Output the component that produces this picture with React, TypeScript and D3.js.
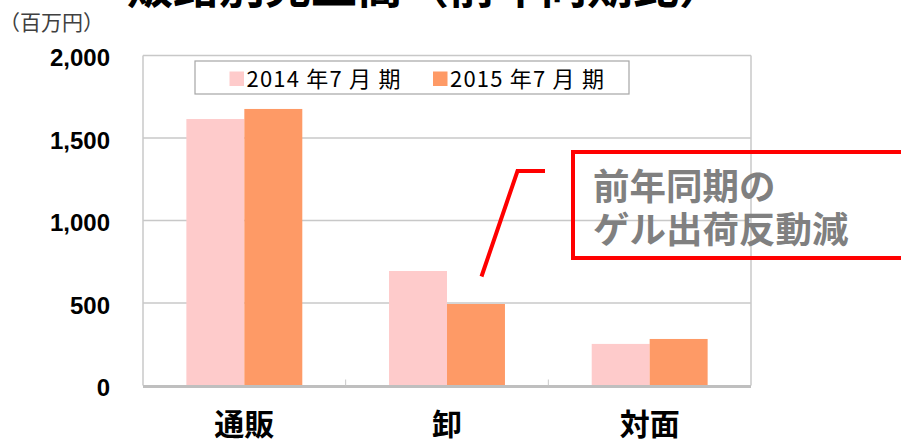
import React from "react";
import * as d3 from "d3";

const categories = ["通販", "卸", "対面"];
const seriesNames = ["2014年7月期", "2015年7月期"];
const legendLabels = ["2014 年7 月 期", "2015 年7 月 期"];
const values2014 = [1615, 694, 252];
const values2015 = [1676, 494, 282];
const yTicks = [0, 500, 1000, 1500, 2000];
const colors = ["#FECBCB", "#FE9A66"];
const titleText = "販路別売上高（前年同期比）";
const unitText = "（百万円）";
const noteLines = ["前年同期の", "ゲル出荷反動減"];

const W = 901;
const H = 440;
const left = 143;
const right = 751;
const top = 55.5;
const bottom = 385.5;

export default function App() {
  const y = d3.scaleLinear().domain([0, 2000]).range([bottom, top]);
  const x0 = d3
    .scaleBand<string>()
    .domain(categories)
    .range([left, right])
    .paddingInner(0.428)
    .paddingOuter(0.214);
  const x1 = d3
    .scaleBand<string>()
    .domain(seriesNames)
    .range([0, x0.bandwidth()])
    .padding(0);
  const series = [values2014, values2015];
  const fmt = d3.format(",");
  const step = x0.step();
  const boundaries = categories.slice(1).map((c) => (x0(c) as number) - (step - x0.bandwidth()) / 2);

  const jp = "'Noto Sans CJK JP', 'Noto Sans', sans-serif";

  return (
    <svg
      width={W}
      height={H}
      style={{ position: "absolute", left: 0, top: 0, display: "block", background: "#fff" }}
    >
      {/* title (cut off at top) */}
      <text x={127} y={2.5} fontFamily={jp} fontWeight={700} fontSize={46} fill="#000">
        {titleText}
      </text>
      <text x={-1} y={30} fontFamily={jp} fontSize={21} fill="#404040">
        {unitText}
      </text>

      {/* gridlines */}
      {yTicks
        .filter((t) => t > 0)
        .map((t) => (
          <line key={t} x1={left} x2={right} y1={y(t)} y2={y(t)} stroke="#c8c8c8" strokeWidth={1.5} />
        ))}
      {/* plot frame */}
      <line x1={left} x2={left} y1={top} y2={bottom} stroke="#c8c8c8" strokeWidth={1.5} />
      <line x1={right} x2={right} y1={top} y2={bottom} stroke="#c8c8c8" strokeWidth={1.5} />

      {/* bars */}
      {categories.map((c, i) => (
        <g key={c} transform={`translate(${x0(c)},0)`}>
          {seriesNames.map((s, j) => (
            <rect
              key={s}
              x={x1(s)}
              y={y(series[j][i])}
              width={x1.bandwidth()}
              height={y(0) - y(series[j][i])}
              fill={colors[j]}
            />
          ))}
        </g>
      ))}

      {/* x axis */}
      <line x1={left} x2={right} y1={bottom + 1} y2={bottom + 1} stroke="#bfbfbf" strokeWidth={3} />
      {boundaries.map((b, i) => (
        <line key={i} x1={b} x2={b} y1={bottom - 6} y2={bottom} stroke="#c8c8c8" strokeWidth={1} />
      ))}

      {/* y labels */}
      {yTicks.map((t) => (
        <text
          key={t}
          x={110}
          y={y(t) + 10.5}
          textAnchor="end"
          fontFamily="'Liberation Sans', Arial, sans-serif"
          fontWeight={700}
          fontSize={24}
          fill="#000"
        >
          {fmt(t)}
        </text>
      ))}

      {/* x labels */}
      {categories.map((c) => (
        <text
          key={c}
          x={(x0(c) as number) + x0.bandwidth() / 2}
          y={435}
          textAnchor="middle"
          fontFamily={jp}
          fontWeight={700}
          fontSize={30}
          fill="#000"
        >
          {c}
        </text>
      ))}

      {/* legend */}
      <rect x={195} y={61} width={434} height={33} fill="#fff" stroke="#a6a6a6" strokeWidth={1.2} />
      {legendLabels.map((l, i) => {
        const sx = [229.5, 433][i];
        return (
          <g key={l}>
            <rect x={sx} y={71.5} width={14.5} height={14.5} fill={colors[i]} />
            <text
              x={sx + 17}
              y={86.5}
              fontFamily={jp}
              fontSize={22}
              fill="#000"
              textLength={154}
              lengthAdjust="spacing"
            >
              {l}
            </text>
          </g>
        );
      })}

      {/* annotation */}
      <polyline
        points="545,171 517.5,171 481.5,276.5"
        fill="none"
        stroke="#ff0000"
        strokeWidth={4}
      />
      <rect x={573} y={152} width={340} height={106} fill="none" stroke="#ff0000" strokeWidth={4} />
      {noteLines.map((l, i) => (
        <text
          key={l}
          x={593}
          y={200 + i * 43}
          fontFamily={jp}
          fontWeight={700}
          fontSize={36.5}
          fill="#808080"
        >
          {l}
        </text>
      ))}
    </svg>
  );
}
